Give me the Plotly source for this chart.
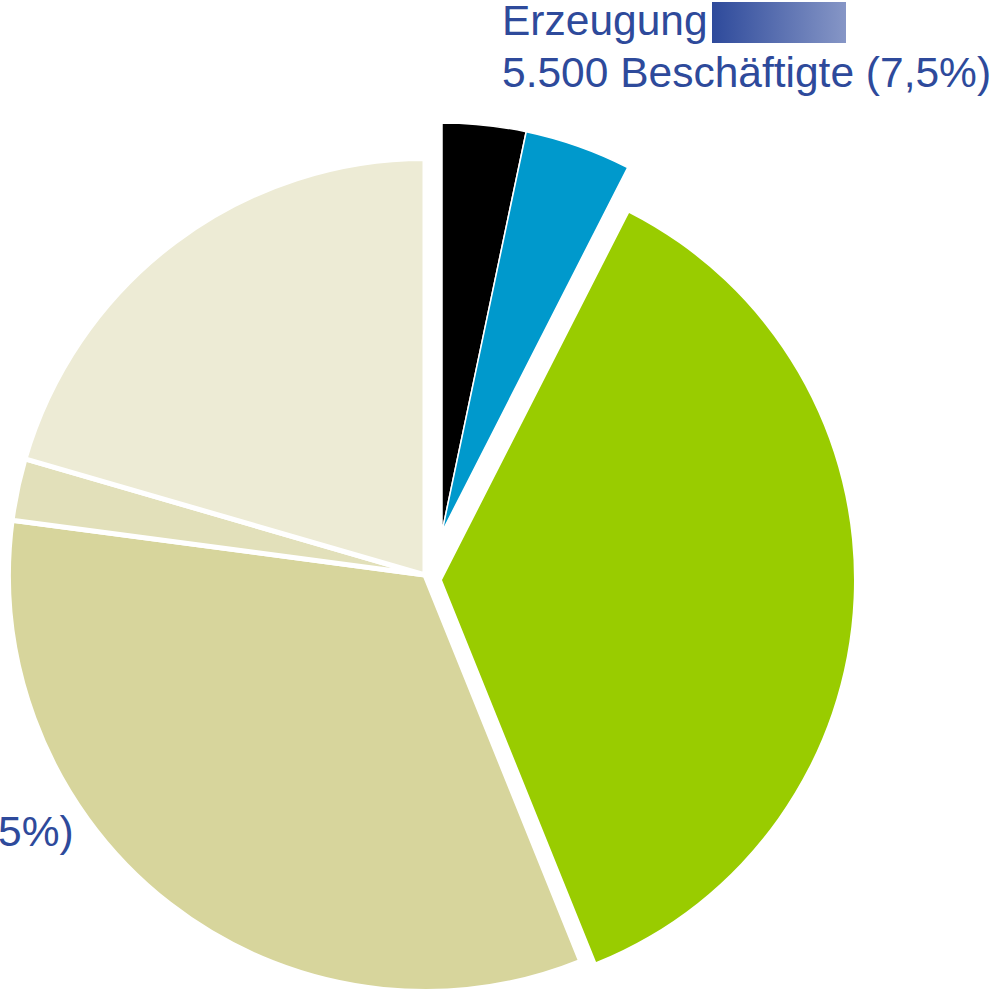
import plotly.graph_objects as go

# ---- data (shares in percent) ----
categories = ["Erzeugung A", "Erzeugung B", "Segment C", "Segment D", "Segment E", "Segment F"]
shares = [3.3, 4.2, 36.4, 33.2, 2.4, 20.5]
colors = ["#000000", "#0099CC", "#99CC00", "#D7D59C", "#E2E0BA", "#EDEBD5"]

label_title = "Erzeugung"
label_value = "5.500 Beschäftigte (7,5%)"
label_left = "5%)"

W, H = 997, 992
TXT = "#2E4A9B"
FONT = "Liberation Sans, Arial, sans-serif"

# groups of slices drawn as separate (exploded) pies; positions in screen pixels
groups = [
    {"idx": [3, 4, 5], "cx": 425, "cy": 575, "r": 416.5, "lw": 5},   # left, not exploded
    {"idx": [2], "cx": 442, "cy": 580, "r": 412, "lw": 0},           # green, exploded
    {"idx": [0, 1], "cx": 442, "cy": 532, "r": 409, "lw": 1.5},      # Erzeugung, exploded
]

fig = go.Figure()
for g in groups:
    cols = [colors[i] if i in g["idx"] else "rgba(0,0,0,0)" for i in range(len(shares))]
    lws = [g["lw"] if i in g["idx"] else 0 for i in range(len(shares))]
    cx, cy = g["cx"], g["cy"]
    x0 = (cx - g["r"]) / W
    x1 = (cx + g["r"]) / W
    y0 = 1 - (cy + g["r"]) / H
    y1 = 1 - (cy - g["r"]) / H
    fig.add_trace(go.Pie(
        labels=categories, values=shares, sort=False, direction="clockwise",
        rotation=0, textinfo="none", showlegend=False,
        marker=dict(colors=cols, line=dict(color="white", width=lws)),
        domain=dict(x=[max(0, x0), min(1, x1)], y=[max(0, y0), min(1, y1)]),
    ))

# gradient legend box next to "Erzeugung"
fig.add_trace(go.Scatter(
    x=[712, 846, 846, 712, 712], y=[2, 2, 43, 43, 2], mode="lines",
    fill="toself", line=dict(width=0),
    fillgradient=dict(type="horizontal", colorscale=[[0, "#2E4A9B"], [1, "#8696C6"]]),
    hoverinfo="skip", showlegend=False,
))

fig.update_layout(
    width=W, height=H, margin=dict(l=0, r=0, t=0, b=0),
    paper_bgcolor="white", plot_bgcolor="rgba(0,0,0,0)",
    xaxis=dict(range=[0, W], visible=False, fixedrange=True),
    yaxis=dict(range=[H, 0], visible=False, fixedrange=True),
    annotations=[
        dict(x=501, y=20.5, xref="x", yref="y", text=label_title, showarrow=False,
             xanchor="left", yanchor="middle", borderpad=0,
             font=dict(family=FONT, size=42.5, color=TXT)),
        dict(x=501, y=72, xref="x", yref="y", text=label_value, showarrow=False,
             xanchor="left", yanchor="middle", borderpad=0,
             font=dict(family=FONT, size=42.5, color=TXT)),
        dict(x=75, y=831, xref="x", yref="y", text=label_left, showarrow=False,
             xanchor="right", yanchor="middle", borderpad=0,
             font=dict(family=FONT, size=42.5, color=TXT)),
    ],
)

fig.write_html("out.html", config={"displayModeBar": False},
               post_script="document.body.style.margin='0';")
